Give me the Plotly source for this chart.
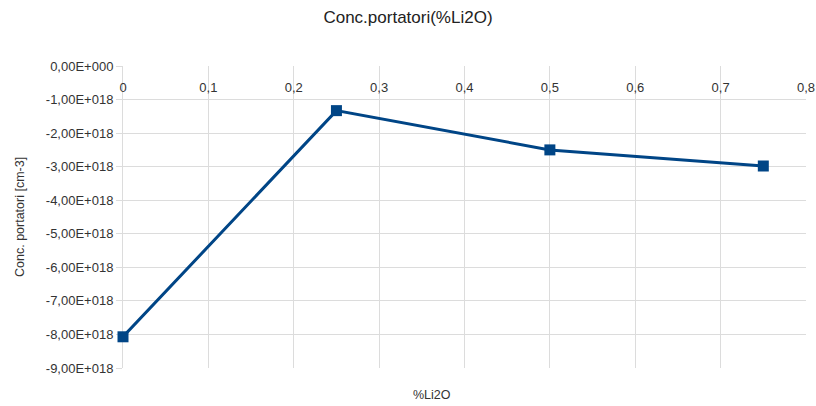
import plotly.graph_objects as go

x_vals = [0, 0.25, 0.5, 0.75]
y_vals = [-8.07e18, -1.33e18, -2.5e18, -2.98e18]

x_ticks = [0, 0.1, 0.2, 0.3, 0.4, 0.5, 0.6, 0.7, 0.8]
x_tick_labels = ["0", "0,1", "0,2", "0,3", "0,4", "0,5", "0,6", "0,7", "0,8"]
y_ticks = [0, -1e18, -2e18, -3e18, -4e18, -5e18, -6e18, -7e18, -8e18, -9e18]
y_tick_labels = ["0,00E+000", "-1,00E+018", "-2,00E+018", "-3,00E+018", "-4,00E+018",
                 "-5,00E+018", "-6,00E+018", "-7,00E+018", "-8,00E+018", "-9,00E+018"]

color = "#004586"
grid = "#dcdcdc"
font = "Liberation Sans, Arial, sans-serif"

fig = go.Figure()
fig.add_trace(go.Scatter(
    x=x_vals, y=y_vals, mode="lines+markers",
    line=dict(color=color, width=3),
    marker=dict(symbol="square", size=11, color=color),
    showlegend=False, cliponaxis=False,
))

fig.update_layout(
    width=816, height=406,
    margin=dict(l=123, r=10, t=66, b=38, autoexpand=False),
    paper_bgcolor="white", plot_bgcolor="white",
    font=dict(family=font, size=13, color="#333333"),
    title=dict(text="Conc.portatori(%Li2O)", x=0.5, xanchor="center", y=0.958, yanchor="middle",
               font=dict(size=17, color="#222222", family=font)),
    xaxis=dict(
        range=[0, 0.8], side="bottom", anchor="free", position=1.0, automargin=False,
        tickvals=x_ticks, ticktext=x_tick_labels, layer="below traces",
        showgrid=True, gridcolor=grid, gridwidth=1,
        zeroline=False, showline=False, ticks="outside", ticklen=9,
        tickcolor="rgba(0,0,0,0)", tickfont=dict(size=13, color="#333333"),
    ),
    yaxis=dict(
        range=[-9e18, 0], tickvals=y_ticks, ticktext=y_tick_labels, automargin=False,
        showgrid=True, gridcolor=grid, gridwidth=1, zeroline=False, layer="below traces",
        showline=True, linecolor=grid, linewidth=1,
        ticks="outside", ticklen=6, tickcolor=grid, tickfont=dict(size=13, color="#333333"),
    ),
    annotations=[
        dict(text="%Li2O", xref="paper", yref="paper", x=(432 - 123) / 683, y=-0.09,
             xanchor="center", yanchor="middle", showarrow=False, font=dict(size=12.5, color="#333333")),
        dict(text="Conc. portatori [cm-3]", xref="paper", yref="paper", x=(20 - 123) / 683, y=0.5,
             xanchor="center", yanchor="middle", textangle=-90, showarrow=False,
             font=dict(size=12.5, color="#333333")),
    ],
)

fig.write_html("out.html")
